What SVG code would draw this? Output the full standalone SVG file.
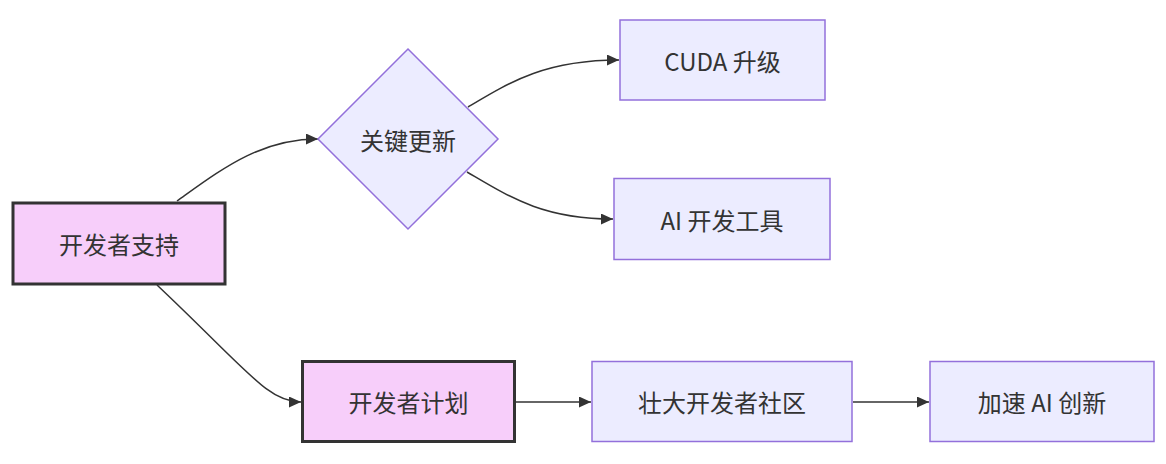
<svg xmlns="http://www.w3.org/2000/svg" width="1166" height="464" viewBox="0 0 1166 464">
<style>
.bg{fill:#ffffff}
.n{fill:#ECECFF;stroke:#9370DB;stroke-width:1.5}
.k{fill:#F7CEFA;stroke:#333333;stroke-width:3}
.t{font-family:"Noto Sans CJK SC","Noto Sans",sans-serif;font-size:24px;fill:#333333;text-anchor:middle;dominant-baseline:central}
.e{fill:none;stroke:#333333;stroke-width:1.5}
</style>
<defs>
<marker id="arr" markerUnits="userSpaceOnUse" markerWidth="12" markerHeight="11" refX="12" refY="5.5" orient="auto">
<path d="M0,0 L12,5.5 L0,11 z" fill="#333333"/>
</marker>
</defs>
<rect class="bg" x="0" y="0" width="1166" height="464"/>
<g id="edges">
<path class="e" d="M177,201 C222,169 260,139 318,139" marker-end="url(#arr)"/>
<path class="e" d="M468,107 C510,82 545,60 619,60" marker-end="url(#arr)"/>
<path class="e" d="M467,172 C508,196 542,219 613,219" marker-end="url(#arr)"/>
<path class="e" d="M157,285 C250,373 268,402 301,402" marker-end="url(#arr)"/>
<path class="e" d="M516,402 L591,402" marker-end="url(#arr)"/>
<path class="e" d="M853,402 L929,402" marker-end="url(#arr)"/>
</g>
<g id="devSupport">
<rect class="k" x="13" y="203" width="212" height="81"/>
<text class="t" x="119" y="243.5">开发者支持</text>
</g>
<g id="keyUpdate">
<polygon class="n" points="408,49 498,139 408,229 318,139"/>
<text class="t" x="408" y="139">关键更新</text>
</g>
<g id="cuda">
<rect class="n" x="620" y="20" width="205" height="80"/>
<text class="t" x="722.5" y="60">CUDA 升级</text>
</g>
<g id="aiTools">
<rect class="n" x="614" y="178.5" width="216" height="81"/>
<text class="t" x="722" y="219">AI 开发工具</text>
</g>
<g id="devProgram">
<rect class="k" x="302.5" y="361.5" width="212" height="80"/>
<text class="t" x="408.5" y="401.5">开发者计划</text>
</g>
<g id="community">
<rect class="n" x="592" y="361.5" width="260" height="80"/>
<text class="t" x="722" y="401.5">壮大开发者社区</text>
</g>
<g id="accelerate">
<rect class="n" x="930" y="361.5" width="224" height="80"/>
<text class="t" x="1042" y="401.5">加速 AI 创新</text>
</g>
</svg>
